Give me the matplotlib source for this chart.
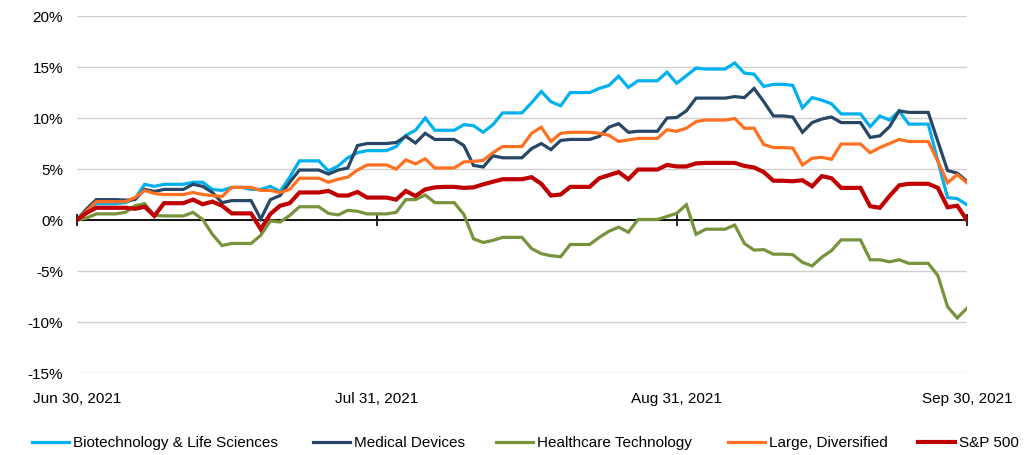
import pandas as pd
import matplotlib
matplotlib.use("Agg")
import matplotlib.pyplot as plt
import matplotlib.dates as mdates
from matplotlib.ticker import FuncFormatter

plt.rcParams['font.family'] = ['Liberation Sans', 'DejaVu Sans']

# calendar days, weekends/holidays carry the last close
dates = pd.date_range('2021-06-30', '2021-09-30', freq='D')

biotech = [0.0, 1.0, 1.6, 1.6, 1.6, 1.7, 2.1, 3.5, 3.3, 3.5, 3.5, 3.5, 3.7, 3.7, 3.0, 2.9,
           3.2, 3.2, 3.0, 3.0, 3.3, 2.8, 4.2, 5.8, 5.8, 5.8, 4.8, 5.3, 6.1, 6.6, 6.8, 6.8,
           6.8, 7.2, 8.3, 8.8, 10.0, 8.8, 8.8, 8.8, 9.35, 9.25, 8.6, 9.35, 10.5, 10.5, 10.5,
           11.5, 12.6, 11.6, 11.2, 12.5, 12.5, 12.5, 12.9, 13.2, 14.1, 13.0, 13.65, 13.65,
           13.65, 14.5, 13.4, 14.15, 14.9, 14.8, 14.8, 14.8, 15.4, 14.4, 14.3, 13.1, 13.3,
           13.3, 13.2, 11.0, 12.0, 11.75, 11.4, 10.4, 10.4, 10.4, 9.15, 10.2, 9.8, 10.7,
           9.4, 9.4, 9.4, 5.8, 2.2, 2.1, 1.5]

med_devices = [0.0, 1.1, 2.0, 2.0, 2.0, 1.95, 2.0, 3.0, 2.8, 3.0, 3.0, 3.0, 3.5, 3.3, 2.7,
               1.7, 1.9, 1.9, 1.9, 0.1, 2.0, 2.4, 3.7, 4.9, 4.9, 4.9, 4.5, 4.9, 5.1, 7.3,
               7.5, 7.5, 7.5, 7.6, 8.2, 7.55, 8.5, 7.9, 7.9, 7.9, 7.3, 5.35, 5.2, 6.3, 6.1,
               6.1, 6.1, 7.0, 7.5, 6.9, 7.8, 7.9, 7.9, 7.9, 8.2, 9.1, 9.45, 8.6, 8.7, 8.7,
               8.7, 10.0, 10.05, 10.7, 11.95, 11.95, 11.95, 11.95, 12.1, 12.0, 12.9, 11.6,
               10.2, 10.2, 10.1, 8.6, 9.55, 9.9, 10.1, 9.55, 9.55, 9.55, 8.1, 8.25, 9.15,
               10.7, 10.55, 10.55, 10.55, 7.7, 4.85, 4.6, 3.8]

hc_tech = [0.0, 0.2, 0.6, 0.6, 0.6, 0.75, 1.4, 1.6, 0.45, 0.4, 0.4, 0.4, 0.75, 0.05, -1.4,
           -2.5, -2.3, -2.3, -2.3, -1.5, -0.1, -0.2, 0.45, 1.3, 1.3, 1.3, 0.65, 0.5, 0.95,
           0.85, 0.6, 0.6, 0.6, 0.75, 2.0, 2.0, 2.45, 1.7, 1.7, 1.7, 0.55, -1.85, -2.2,
           -2.0, -1.7, -1.7, -1.7, -2.8, -3.3, -3.5, -3.6, -2.4, -2.4, -2.4, -1.7, -1.1,
           -0.7, -1.2, 0.05, 0.05, 0.05, 0.35, 0.65, 1.5, -1.4, -0.9, -0.9, -0.9, -0.5,
           -2.3, -2.95, -2.9, -3.35, -3.35, -3.4, -4.15, -4.5, -3.65, -3.0, -1.95, -1.95,
           -1.95, -3.9, -3.9, -4.1, -3.9, -4.25, -4.25, -4.25, -5.45, -8.5, -9.6, -8.65]

large_div = [0.0, 0.9, 1.8, 1.8, 1.8, 1.8, 2.2, 2.9, 2.6, 2.5, 2.5, 2.5, 2.7, 2.5, 2.4, 2.3,
             3.2, 3.2, 3.2, 2.9, 2.9, 2.7, 3.0, 4.1, 4.1, 4.1, 3.7, 4.0, 4.2, 4.9, 5.4, 5.4,
             5.4, 5.0, 5.9, 5.5, 6.0, 5.1, 5.1, 5.1, 5.7, 5.75, 5.85, 6.6, 7.2, 7.2, 7.2,
             8.5, 9.1, 7.7, 8.5, 8.6, 8.6, 8.6, 8.5, 8.3, 7.7, 7.85, 8.0, 8.0, 8.0, 8.85,
             8.7, 9.0, 9.65, 9.8, 9.8, 9.8, 9.95, 9.0, 9.0, 7.4, 7.1, 7.1, 7.05, 5.4, 6.05,
             6.15, 5.95, 7.45, 7.45, 7.45, 6.6, 7.1, 7.5, 7.9, 7.7, 7.7, 7.7, 5.75, 3.65,
             4.45, 3.65]

sp500 = [0.0, 0.7, 1.2, 1.2, 1.2, 1.2, 1.1, 1.3, 0.4, 1.65, 1.65, 1.65, 2.0, 1.55, 1.8, 1.4,
         0.65, 0.65, 0.65, -0.9, 0.6, 1.4, 1.65, 2.7, 2.7, 2.7, 2.85, 2.4, 2.4, 2.75, 2.2,
         2.2, 2.2, 2.0, 2.85, 2.35, 3.0, 3.2, 3.25, 3.25, 3.15, 3.2, 3.5, 3.75, 4.0, 4.0,
         4.0, 4.2, 3.55, 2.4, 2.5, 3.25, 3.25, 3.25, 4.1, 4.4, 4.7, 4.0, 4.95, 4.95, 4.95,
         5.4, 5.25, 5.25, 5.55, 5.6, 5.6, 5.6, 5.6, 5.3, 5.15, 4.7, 3.85, 3.85, 3.8, 3.9,
         3.3, 4.3, 4.1, 3.15, 3.15, 3.15, 1.35, 1.2, 2.35, 3.4, 3.55, 3.55, 3.55, 3.15,
         1.25, 1.4, 0.0]

series = [
    ("Biotechnology & Life Sciences", biotech, "#00B0F0", 2.3),
    ("Medical Devices", med_devices, "#284766", 2.3),
    ("Healthcare Technology", hc_tech, "#77933C", 2.3),
    ("Large, Diversified", large_div, "#FF7020", 2.3),
    ("S&P 500", sp500, "#C00000", 3.0),
]

tick_dates = pd.to_datetime(['2021-06-30', '2021-07-31', '2021-08-31', '2021-09-30'])
yticks = [-15, -10, -5, 0, 5, 10, 15, 20]

# left edge (px) of each legend entry, as in the source layout
legend_x = [32, 313, 496, 728, 918]

fig = plt.figure(figsize=(10.26, 4.55), dpi=100)
ax = fig.add_axes([0.075, 0.1802, 0.8674, 0.7846])

lines = []
for name, vals, color, lw in series:
    ln, = ax.plot(dates, vals, color=color, lw=lw, label=name, solid_joinstyle='miter')
    lines.append(ln)

ax.set_ylim(-15, 20)
ax.set_xlim(dates[0], dates[-1])
ax.set_yticks(yticks)
ax.yaxis.set_major_formatter(FuncFormatter(lambda v, p: f"{v:.0f}%"))
ax.grid(axis='y', color='#D0D0D0', lw=1.0)
ax.set_axisbelow(True)
ax.axhline(0, color='black', lw=1.3, zorder=1.5)

for s in ax.spines.values():
    s.set_visible(False)

ax.set_xticks(tick_dates)
ax.xaxis.set_major_formatter(FuncFormatter(
    lambda v, p: (lambda d: f"{d:%b} {d.day}, {d.year}")(mdates.num2date(v))))
ax.tick_params(axis='x', length=0, pad=14, labelsize=11)
ax.tick_params(axis='y', length=0, pad=10, labelsize=11)

# tick marks on the zero line
sec = ax.secondary_xaxis(15 / 35)
sec.set_xticks(tick_dates)
sec.tick_params(axis='x', direction='inout', length=9, width=1.2, labelbottom=False,
                labeltop=False)
sec.spines['bottom'].set_visible(False)
sec.spines['top'].set_visible(False)

for ln, x in zip(lines, legend_x):
    fig.legend(handles=[ln], loc='center left', bbox_to_anchor=(x / 1026, 1 - 443 / 455),
               frameon=False, fontsize=11, handlelength=2.4, handletextpad=0.3,
               borderpad=0, borderaxespad=0)

fig.savefig('out.png', dpi=100)
